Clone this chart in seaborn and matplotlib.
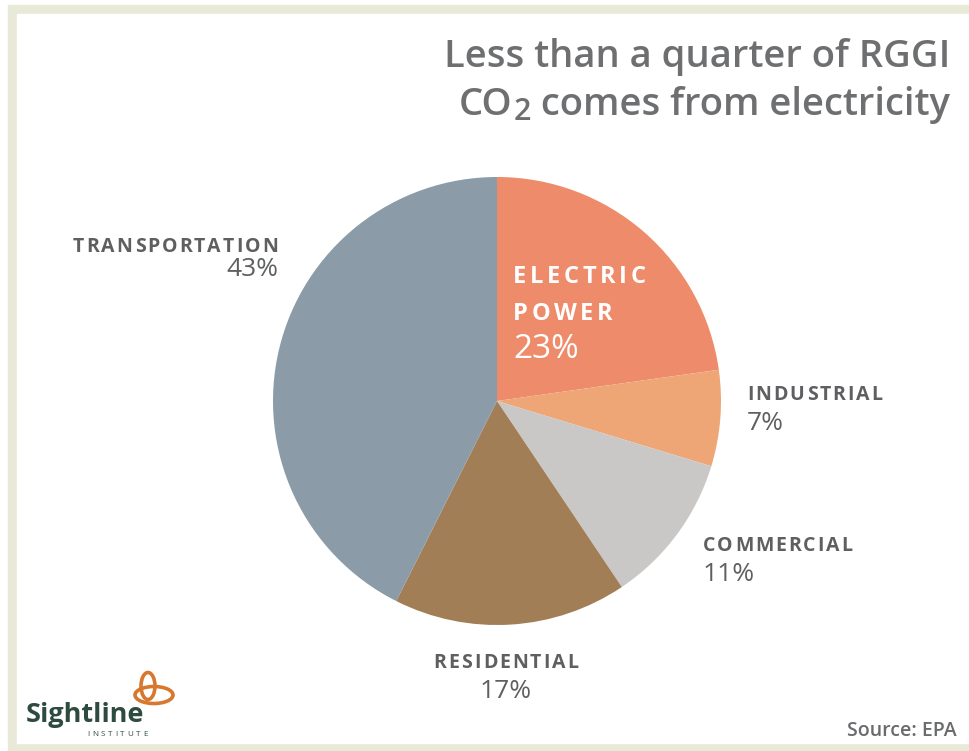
import matplotlib
matplotlib.use("Agg")
import matplotlib.pyplot as plt
from matplotlib.patches import Rectangle, Ellipse
import seaborn as sns

# Share of RGGI-state CO2 emissions by sector (percent)
sectors = ["ELECTRIC POWER", "INDUSTRIAL", "COMMERCIAL", "RESIDENTIAL", "TRANSPORTATION"]
shares = [23, 7, 11, 17, 43]
pct_labels = ["23%", "7%", "11%", "17%", "43%"]
colors = ["#EE8B6A", "#EFA676", "#C9C8C6", "#A27E57", "#8B9CA8"]

title_line1 = "Less than a quarter of RGGI"
title_line2 = ["CO", "2", " comes from electricity"]
source_text = "Source: EPA"

sns.set_theme(style="white")
FONT = ["Open Sans", "DejaVu Sans"]
plt.rcParams["font.family"] = FONT

W, H = 970, 751
fig = plt.figure(figsize=(W / 100, H / 100), dpi=100)
fig.patch.set_facecolor("white")


def fx(x):
    return x / W


def fy(y):
    return 1 - y / H


# beige frame
fig.patches.append(Rectangle((fx(8), fy(751)), fx(970 - 8), (751 - 5) / H,
                             transform=fig.transFigure, color="#E8E9D6", zorder=-2))
fig.patches.append(Rectangle((fx(17), fy(743)), fx(970 - 17), (743 - 14) / H,
                             transform=fig.transFigure, color="white", zorder=-1))

# pie
cx, cy, r = 497, 401, 224
ax = fig.add_axes([fx(cx - r), fy(cy + r), (2 * r) / W, (2 * r) / H])
ax.set_zorder(2)
ax.pie(shares, colors=colors, startangle=90, counterclock=False, radius=1,
       wedgeprops=dict(linewidth=0))
ax.set_xlim(-1, 1)
ax.set_ylim(-1, 1)
ax.set_aspect("auto")
ax.axis("off")

renderer = fig.canvas.get_renderer()


def spaced(x, y, s, size, color, weight="bold", spacing=2.0, ha="left"):
    """Draw text with extra letter spacing (x, y in pixels, baseline)."""
    widths = []
    for ch in s:
        t = fig.text(0, 0, "n" if ch == " " else ch, fontsize=size, weight=weight)
        widths.append(t.get_window_extent(renderer).width)
        t.remove()
    total = sum(widths) + spacing * (len(s) - 1)
    if ha == "right":
        x0 = x - total
    elif ha == "center":
        x0 = x - total / 2
    else:
        x0 = x
    for ch, w in zip(s, widths):
        if ch != " ":
            fig.text(fx(x0), fy(y), ch, fontsize=size, weight=weight,
                     color=color, va="baseline", ha="left", zorder=5)
        x0 += w + spacing


GRAY = "#5E5F61"
TITLE_GRAY = "#6E6F71"
LBL = 14
PCT = 19
TSIZE = 27.5

# title
fig.text(fx(950), fy(67), title_line1, fontsize=TSIZE, weight="semibold",
         color=TITLE_GRAY, ha="right", va="baseline")
# second line: right-aligned pieces, with a lowered "2" in CO2
x_right = 950
t = fig.text(fx(x_right), fy(115), title_line2[2], fontsize=TSIZE, weight="semibold",
             color=TITLE_GRAY, ha="right", va="baseline")
x_right -= t.get_window_extent(renderer).width
t = fig.text(fx(x_right), fy(120), title_line2[1], fontsize=TSIZE * 0.8, weight="semibold",
             color=TITLE_GRAY, ha="right", va="baseline")
x_right -= t.get_window_extent(renderer).width + 1
fig.text(fx(x_right), fy(115), title_line2[0], fontsize=TSIZE, weight="semibold",
         color=TITLE_GRAY, ha="right", va="baseline")

# sector labels
spaced(278, 252, sectors[4], LBL, GRAY, spacing=2.0, ha="right")
fig.text(fx(278), fy(276), pct_labels[4], fontsize=PCT, color=GRAY, ha="right", va="baseline")

spaced(513, 283, "ELECTRIC", 17, "white", spacing=3.6)
spaced(513, 320, "POWER", 17, "white", spacing=3.6)
fig.text(fx(513), fy(358), pct_labels[0], fontsize=24, color="white", ha="left",
         va="baseline", zorder=5)

spaced(747, 400, sectors[1], LBL, GRAY, spacing=2.0)
fig.text(fx(747), fy(430), pct_labels[1], fontsize=PCT, color=GRAY, ha="left", va="baseline")

spaced(703, 551, sectors[2], LBL, GRAY, spacing=2.0)
fig.text(fx(703), fy(581), pct_labels[2], fontsize=PCT, color=GRAY, ha="left", va="baseline")

spaced(506, 668, sectors[3], LBL, GRAY, spacing=2.0, ha="center")
fig.text(fx(506), fy(698), pct_labels[3], fontsize=PCT, color=GRAY, ha="center", va="baseline")

# source
fig.text(fx(957), fy(736), source_text, fontsize=14, weight="semibold",
         color="#6A6B6D", ha="right", va="baseline")

# Sightline Institute logo
fig.text(fx(26), fy(722), "Sightline", fontsize=19.5, weight="bold",
         color="#2E4B40", ha="left", va="baseline")
spaced(87, 736, "INSTITUTE", 5.8, "#2E4B40", weight="normal", spacing=2.8)
ORANGE = "#D8772E"
for (ex, ey, ew, eh) in [(154, 695, 38, 17), (148, 686, 14, 27)]:
    fig.patches.append(Ellipse((fx(ex), fy(ey)), ew / W, eh / H, angle=0,
                               transform=fig.transFigure, fill=False,
                               edgecolor=ORANGE, linewidth=2.6, zorder=3))

fig.savefig("out.png", dpi=100, facecolor="white")
